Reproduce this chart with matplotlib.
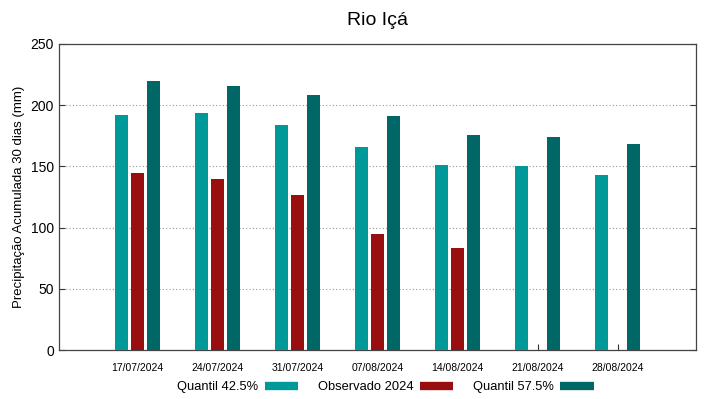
import matplotlib
matplotlib.use('Agg')
import matplotlib.pyplot as plt
import numpy as np

plt.rcParams['font.family'] = ['Liberation Sans', 'DejaVu Sans']

# weekly dates (x categories)
dates = ['17/07/2024', '24/07/2024', '31/07/2024', '07/08/2024',
         '14/08/2024', '21/08/2024', '28/08/2024']

# accumulated precipitation over 30 days (mm)
quantil_425 = [192, 194, 184, 166, 151, 150, 143]
observado_2024 = [145, 140, 127, 95, 83, np.nan, np.nan]
quantil_575 = [220, 216, 208, 191, 176, 174, 168]

labels = ['Quantil 42.5%', 'Observado 2024', 'Quantil 57.5%']
colors = ['#009999', '#990f0f', '#006666']

x = np.arange(len(dates))
width = 0.165
offset = 0.2

fig = plt.figure(figsize=(7.19, 3.99), dpi=100)
ax = fig.add_axes([0.082, 0.1228, 0.886, 0.767])

series = [quantil_425, observado_2024, quantil_575]
handles = []
for i, (vals, col, lab) in enumerate(zip(series, colors, labels)):
    ax.bar(x + (i - 1) * offset, vals, width=width, color=col, zorder=3)
    h, = ax.plot([], [], color=col, linewidth=6, solid_capstyle='butt', label=lab)
    handles.append(h)

ax.set_xlim(-0.985, 6.98)
ax.set_ylim(0, 250)
ax.set_xticks(x)
ax.set_xticklabels(dates, fontsize=7.5)
ax.set_yticks(np.arange(0, 251, 50))
ax.tick_params(axis='y', labelsize=10, direction='in', right=True, length=4, color='#333333')
ax.tick_params(axis='x', direction='in', length=4, color='#333333', pad=9)

ax.yaxis.grid(True, linestyle=(0, (1, 2)), color='#999999', linewidth=0.8, zorder=0)

for s in ax.spines.values():
    s.set_color('#444444')
    s.set_linewidth(0.9)

ax.set_ylabel('Precipitação Acumulada 30 dias (mm)', fontsize=9.5)
ax.set_title('Rio Içá', fontsize=14, pad=14)

fig.legend(handles=handles, loc='center', bbox_to_anchor=(0.536, 0.03), ncol=3,
           frameon=False, markerfirst=False, fontsize=9.3, handlelength=2.6,
           columnspacing=1.5, handletextpad=0.5, borderpad=0)

fig.savefig('out.png', dpi=100)
